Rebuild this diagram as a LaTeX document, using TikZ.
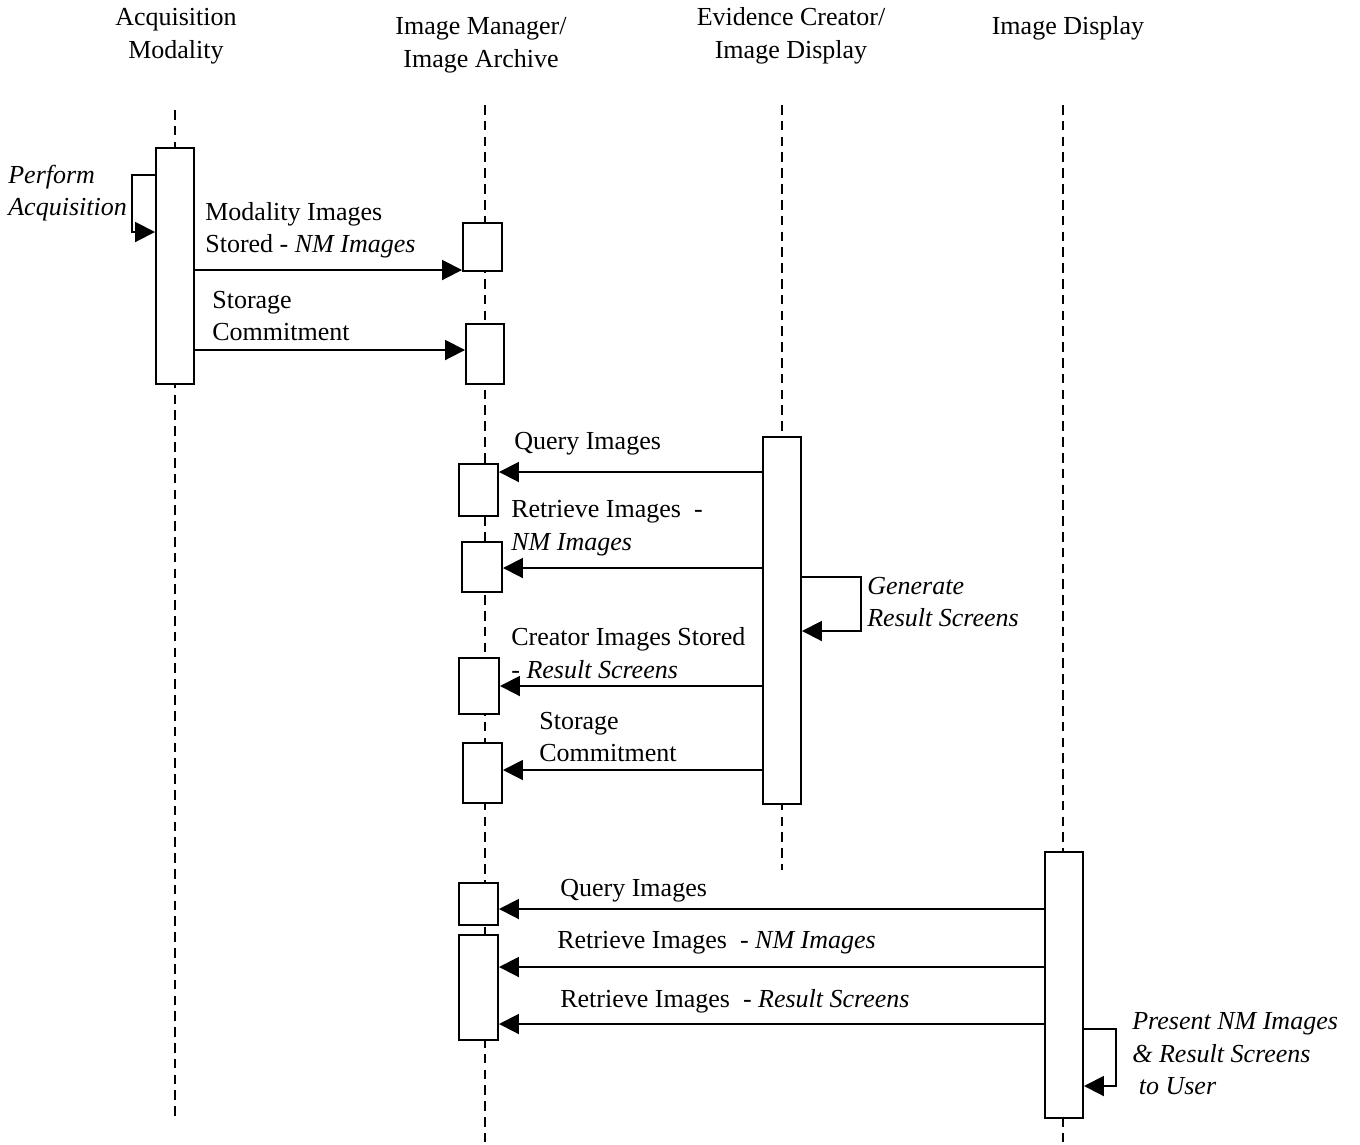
\documentclass[tikz,border=0pt]{standalone}
\usepackage{fontspec}
\setmainfont{Liberation Serif}
\usetikzlibrary{arrows.meta,fit}

\newcommand{\seqfont}{\fontsize{14.8}{18.5}\selectfont}

\begin{document}
\begin{tikzpicture}[
  x=0.02cm, y=-0.02cm,
  font=\seqfont,
  life/.style={line width=0.8pt, dash pattern=on 5.5pt off 3.5pt},
  act/.style={draw, fill=white, line width=1.1pt, inner sep=0pt},
  msg/.style={line width=1.1pt, -{Triangle[length=4mm, width=4mm]}},
  msgtext/.style={align=left, anchor=west, inner sep=0pt},
  selftext/.style={msgtext, font=\seqfont\itshape},
  actor/.style={align=center, inner sep=0pt}
]
\useasboundingbox (0,0) rectangle (1360,1144);

% ---------- actors ----------
\node[actor] (tAM) at (176,36) {Acquisition\\Modality};
\node[actor] (tIM) at (481,45) {Image Manager/\\Image Archive};
\node[actor] (tEC) at (791,36) {Evidence Creator/\\Image Display};
\node[actor] (tID) at (1068,28) {Image Display};

% ---------- lifelines ----------
\draw[life] (175,110) -- (175,1120);
\draw[life] (485,105) -- (485,1144);
\draw[life] (782,105) -- (782,870);
\draw[life] (1063,105) -- (1063,1144);

% ---------- activation boxes ----------
\node[act, fit={(156,148) (194,384)}] (am) {};
\node[act, fit={(463,223) (502,271)}] (im1) {};
\node[act, fit={(466,324) (504,384)}] (im2) {};
\node[act, fit={(763,437) (801,804)}] (ec) {};
\node[act, fit={(459,464) (498,516)}] (im3) {};
\node[act, fit={(462,542) (502,592)}] (im4) {};
\node[act, fit={(459,658) (499,714)}] (im5) {};
\node[act, fit={(463,743) (502,803)}] (im6) {};
\node[act, fit={(1045,852) (1083,1118)}] (id) {};
\node[act, fit={(459,883) (498,925)}] (im7) {};
\node[act, fit={(459,935) (498,1040)}] (im8) {};

% ---------- message heights ----------
\coordinate (y1) at (0,270);
\coordinate (y2) at (0,350);
\coordinate (y3) at (0,472);
\coordinate (y4) at (0,568);
\coordinate (y5) at (0,686);
\coordinate (y6) at (0,770);
\coordinate (y7) at (0,909);
\coordinate (y8) at (0,967);
\coordinate (y9) at (0,1024);

% ---------- acquisition ----------
\draw[msg] (am.west |- 0,175) -- ++(-23,0) |- (am.west |- 0,232);
\node[selftext] (nPA) at (8,193) {Perform\\Acquisition};

\draw[msg] (am.east |- y1) -- (im1.west |- y1);
\node[msgtext] (nMS) at (205,230) {Modality Images\\Stored - \textit{NM Images}};
\draw[msg] (am.east |- y2) -- (im2.west |- y2);
\node[msgtext] (nSC1) at (212,316) {Storage\\Commitment};

% ---------- evidence creator ----------
\draw[msg] (ec.west |- y3) -- (im3.east |- y3);
\node[msgtext] (nQ1) at (514,444) {Query Images};
\draw[msg] (ec.west |- y4) -- (im4.east |- y4);
\node[msgtext] (nR1) at (511,528) {Retrieve Images~ -\\\textit{NM Images}};
\draw[msg] (ec.east |- 0,577) -- ++(59,0) |- (ec.east |- 0,631);
\node[selftext] (nGR) at (867,602) {Generate\\Result Screens};
\draw[msg] (ec.west |- y5) -- (im5.east |- y5);
\node[msgtext] (nCS) at (511,653) {Creator Images Stored\\- \textit{Result Screens}};
\draw[msg] (ec.west |- y6) -- (im6.east |- y6);
\node[msgtext] (nSC2) at (539,737) {Storage\\Commitment};

% ---------- image display ----------
\draw[msg] (id.west |- y7) -- (im7.east |- y7);
\node[msgtext] (nQ2) at (560,891) {Query Images};
\draw[msg] (id.west |- y8) -- (im8.east |- y8);
\node[msgtext] (nR2) at (557,943) {Retrieve Images~ - \textit{NM Images}};
\draw[msg] (id.west |- y9) -- (im8.east |- y9);
\node[msgtext] (nR3) at (560,1001) {Retrieve Images~ - \textit{Result Screens}};
\draw[msg] (id.east |- 0,1029) -- ++(32,0) |- (id.east |- 0,1086);
\node[selftext] (nPR) at (1132,1054) {Present NM Images\\\& Result Screens\\\ to User};
\end{tikzpicture}
\end{document}
